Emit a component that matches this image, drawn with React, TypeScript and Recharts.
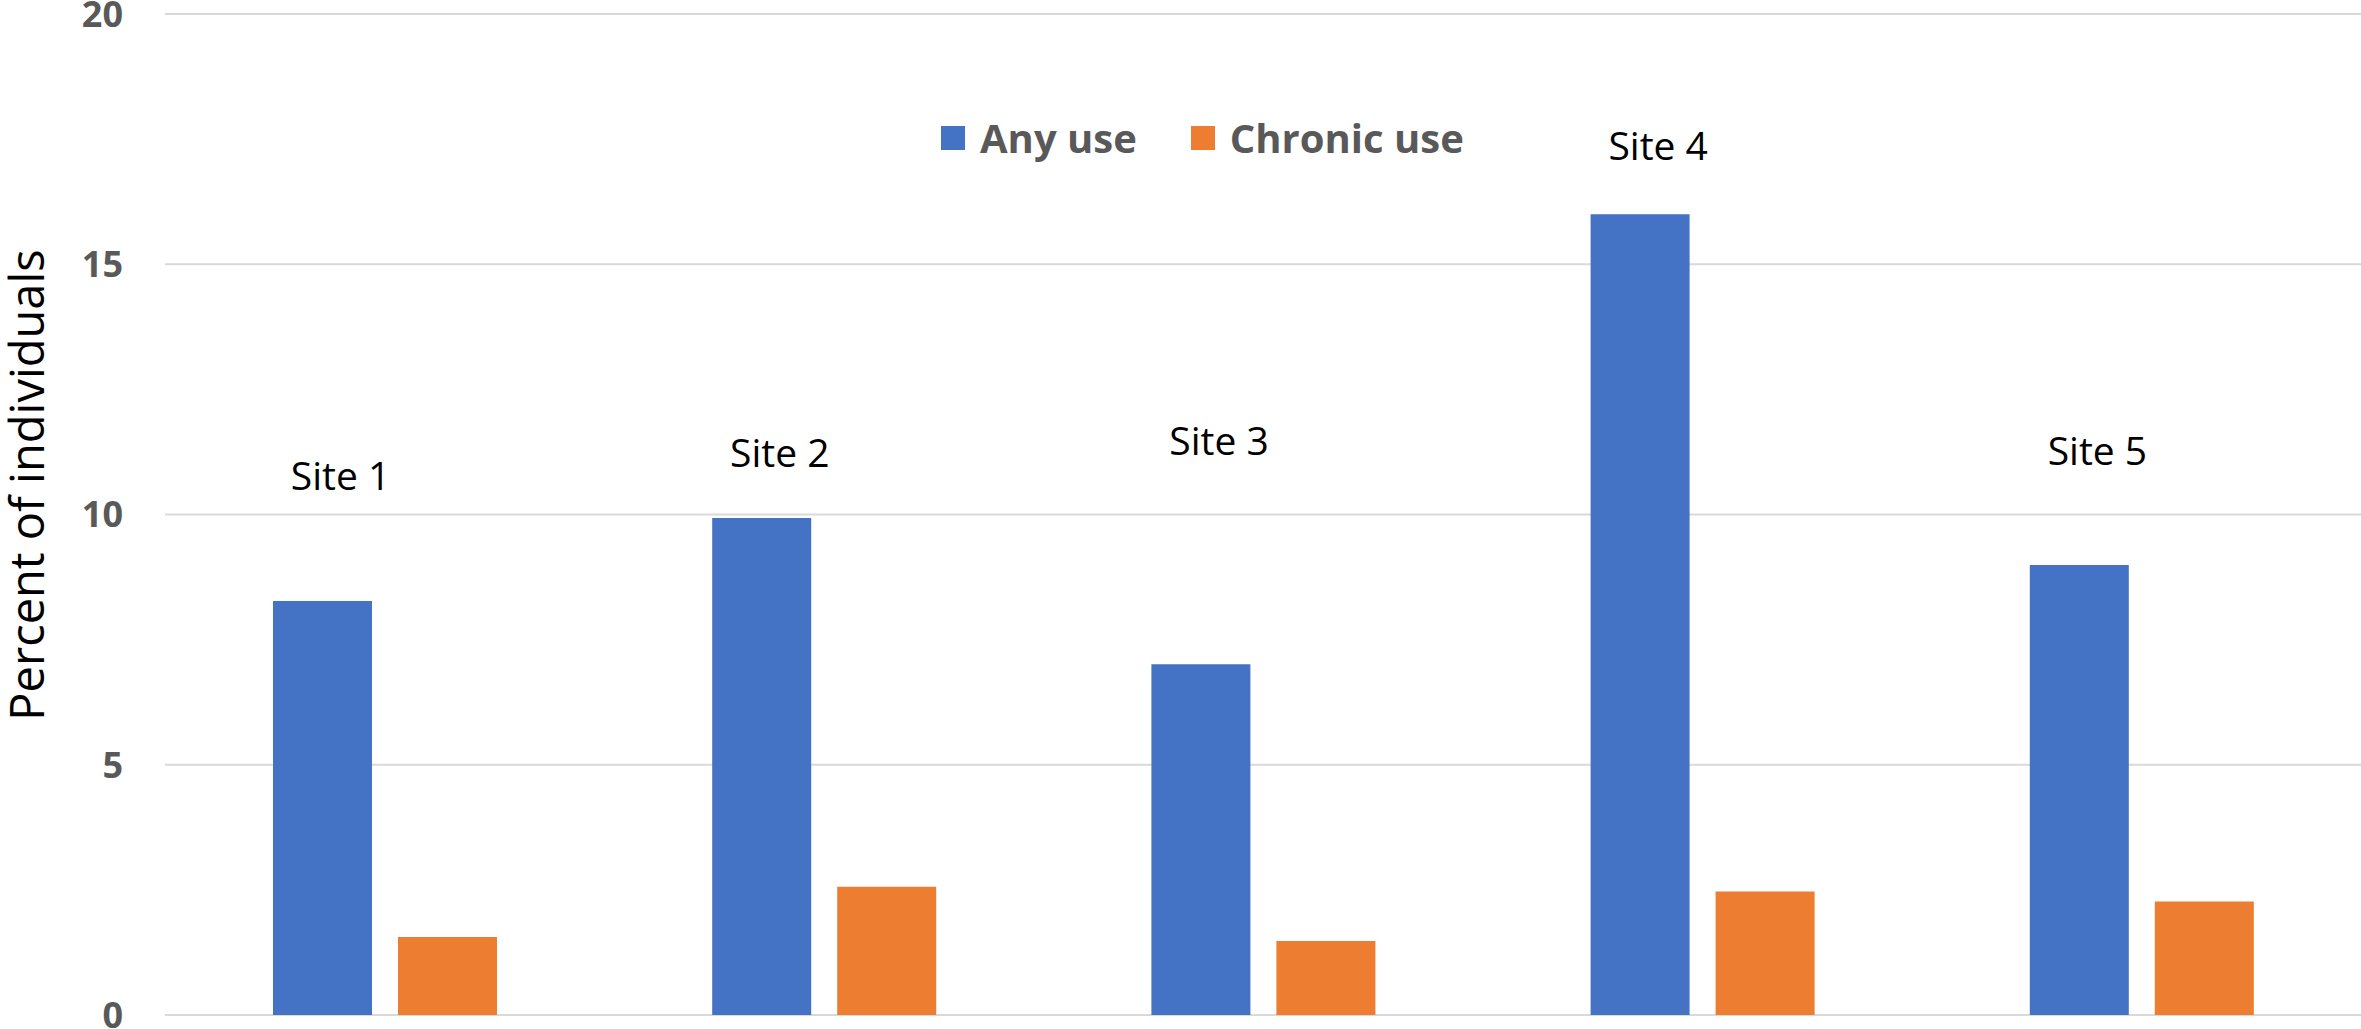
import { Bar, CartesianGrid, ComposedChart, LabelList, Legend, Line, XAxis, YAxis } from 'recharts';

const sites = ['Site 1', 'Site 2', 'Site 3', 'Site 4', 'Site 5'];
const anyUse = [8.27, 9.93, 7.01, 16.0, 8.99];
const chronicUse = [1.56, 2.56, 1.48, 2.47, 2.27];
// height (in percent units) where each site's name is written
const siteLabelY = [10.8, 11.25, 11.5, 17.4, 11.3];
const yTicks = [0, 5, 10, 15, 20];

const BLUE = '#4472C4';
const ORANGE = '#ED7D31';
const GREY = '#595959';
const FONT = '"Open Sans", sans-serif';

const chartData = sites.map((site, i) => ({
  site,
  anyUse: anyUse[i],
  chronicUse: chronicUse[i],
  labelY: siteLabelY[i],
}));

function SiteLabel(props: any) {
  const vb = props.viewBox || {};
  const x = props.x ?? vb.x;
  const y = props.y ?? vb.y;
  if (x == null || y == null) return null;
  return (
    <text x={x - 44} y={y} textAnchor="middle" dominantBaseline="central"
      fontFamily={FONT} fontSize={39} fill="#000">
      {props.value}
    </text>
  );
}

function LegendBox() {
  const items = [
    { name: 'Any use', color: BLUE },
    { name: 'Chronic use', color: ORANGE },
  ];
  return (
    <div style={{ display: 'flex', alignItems: 'center', height: 46, whiteSpace: 'nowrap' }}>
      {items.map((it, i) => (
        <div key={it.name} style={{ display: 'flex', alignItems: 'center', marginLeft: i ? 54 : 0 }}>
          <div style={{ width: 24, height: 24, background: it.color, marginRight: 15 }} />
          <span style={{ fontFamily: FONT, fontWeight: 700, fontSize: 40, color: GREY, lineHeight: 1 }}>
            {it.name}
          </span>
        </div>
      ))}
    </div>
  );
}

export default function App() {
  return (
    <div style={{ width: 2361, height: 1029, background: '#fff' }}>
      <style>{'body{margin:0}'}</style>
      <ComposedChart width={2361} height={1029} data={chartData}
        margin={{ top: 14, right: 0, bottom: 14, left: 0 }}
        barSize={99} barGap={26}>
        <CartesianGrid vertical={false} stroke="#d9d9d9" strokeWidth={2} />
        <XAxis dataKey="site" hide />
        <YAxis width={165} domain={[0, 20]} ticks={yTicks} axisLine={false} tickLine={false}
          tickMargin={36} interval={0}
          tick={{ fontFamily: FONT, fontSize: 36, fontWeight: 700, fill: GREY }}
          label={{
            content: () => (
              <text x={26} y={485} transform="rotate(-90, 26, 485)" textAnchor="middle"
                dominantBaseline="central" fontFamily={FONT} fontSize={47} fill="#000">
                Percent of individuals
              </text>
            ),
          }}
        />
        <Legend layout="vertical" align="center" verticalAlign="middle"
          wrapperStyle={{ top: 115, left: 941, width: 'auto' }}
          content={() => <LegendBox />} />
        <Bar dataKey="anyUse" name="Any use" fill={BLUE} isAnimationActive={false} />
        <Bar dataKey="chronicUse" name="Chronic use" fill={ORANGE} isAnimationActive={false} />
        <Line dataKey="labelY" stroke="none" dot={false} activeDot={false} legendType="none"
          isAnimationActive={false}>
          <LabelList dataKey="site" content={<SiteLabel />} />
        </Line>
      </ComposedChart>
    </div>
  );
}
